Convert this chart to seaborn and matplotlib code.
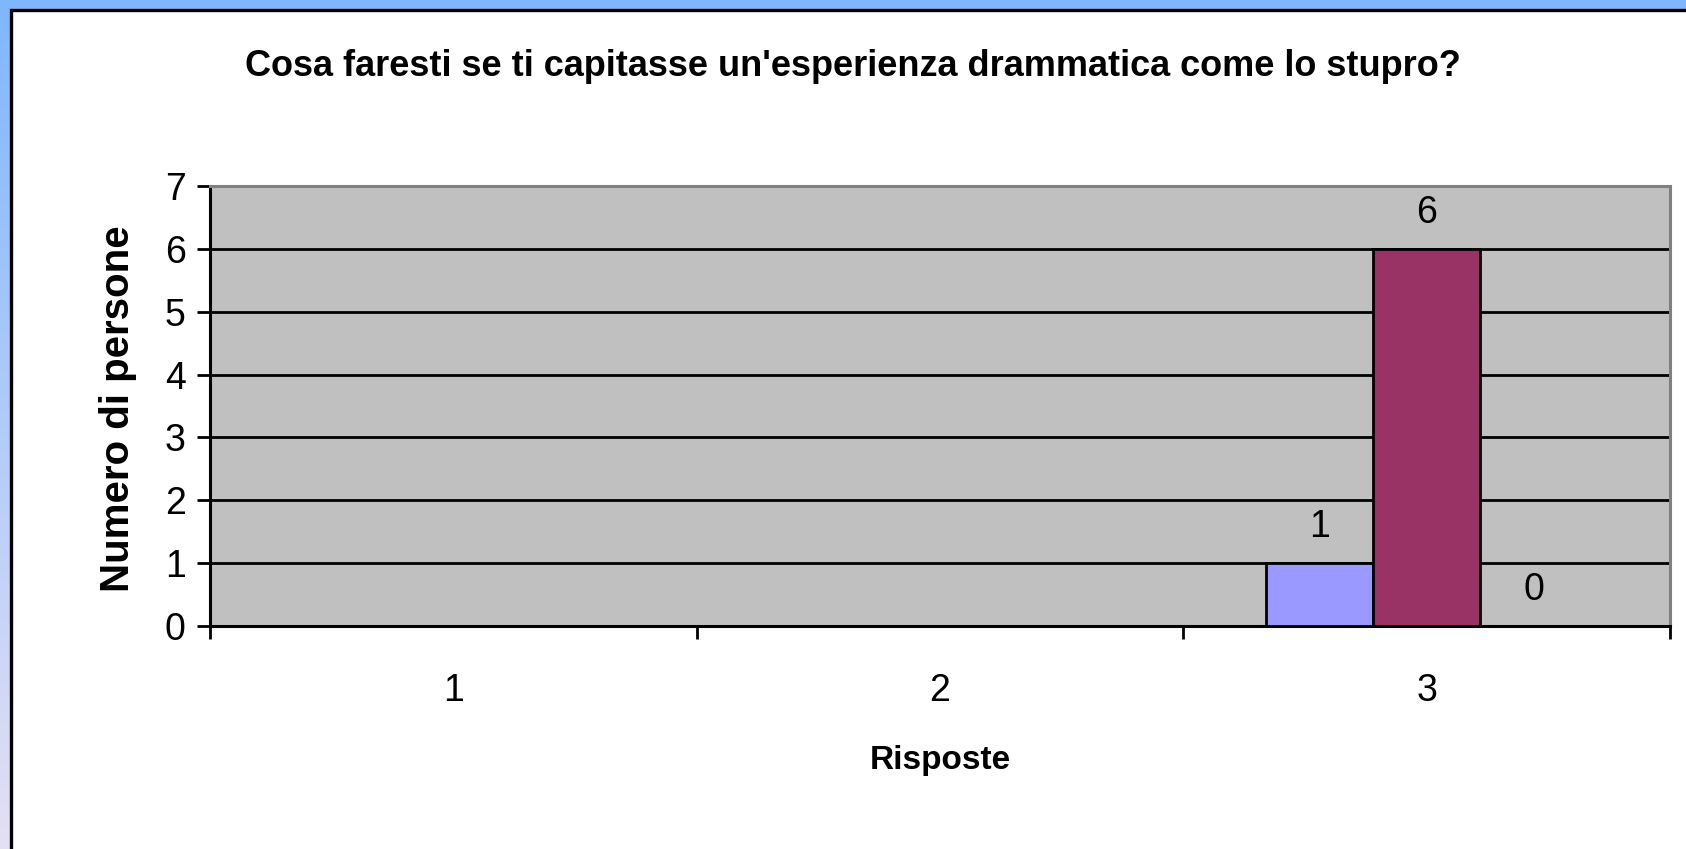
import numpy as np
import pandas as pd
import matplotlib
matplotlib.use('Agg')
import matplotlib.pyplot as plt
from matplotlib.patches import Rectangle
import seaborn as sns

# dati
risposte = ['1', '2', '3']
serie = ['A', 'B', 'C']
serie_a = [np.nan, np.nan, 1]
serie_b = [np.nan, np.nan, 6]
serie_c = [np.nan, np.nan, 0]
colori = ['#9999ff', '#993366', '#ffffcc']

df = pd.DataFrame({
    'Risposta': risposte * 3,
    'Serie': ['A'] * 3 + ['B'] * 3 + ['C'] * 3,
    'Persone': serie_a + serie_b + serie_c,
})

sns.set_style('white')
plt.rcParams['font.family'] = ['Liberation Sans', 'DejaVu Sans']
plt.rcParams['text.color'] = 'black'
plt.rcParams['xtick.color'] = 'black'
plt.rcParams['ytick.color'] = 'black'
plt.rcParams['axes.labelcolor'] = 'black'

fig = plt.figure(figsize=(16.86, 8.49), dpi=100)

# sfondo sfumato + pannello bianco
bg = fig.add_axes([0, 0, 1, 1], zorder=-2)
top = np.array([127, 183, 255]) / 255
bot = np.array([228, 224, 244]) / 255
t = np.linspace(0, 1, 256)[:, None]
grad = (top[None, :] * (1 - t) + bot[None, :] * t)[:, None, :]
bg.imshow(grad, aspect='auto', extent=[0, 1, 0, 1], origin='upper')
bg.add_patch(Rectangle((10.5 / 1686, -0.1), 2, 1.1 - 9.5 / 849,
                       transform=bg.transAxes, facecolor='white',
                       edgecolor='black', linewidth=2.4))
bg.set_xlim(0, 1)
bg.set_ylim(0, 1)
bg.axis('off')

ax = fig.add_axes([210 / 1686, 1 - 626 / 849, 1460 / 1686, 440 / 849], zorder=0)
ax.set_facecolor('#c0c0c0')

sns.barplot(data=df, x='Risposta', y='Persone', hue='Serie', order=risposte,
            hue_order=serie, palette=colori, saturation=1, width=0.66,
            edgecolor='black', linewidth=2, errorbar=None, legend=False,
            ax=ax, zorder=3)

for c in ax.containers:
    ax.bar_label(c, padding=13, fontsize=27)

ax.set_ylim(0, 7)
ax.set_xlim(-0.5, 2.5)
ax.set_yticks(range(8))
ax.yaxis.grid(True, color='black', linewidth=2)
ax.set_axisbelow(True)

ax.set_xticks(range(3))
ax.set_xticklabels(risposte, fontsize=27)
ax.set_xticks([-0.5, 0.5, 1.5, 2.5], minor=True)
ax.tick_params(axis='x', which='major', length=0, pad=34)
ax.tick_params(axis='x', which='minor', length=9.5, width=2, direction='out', color='black')
ax.tick_params(axis='y', length=9.5, width=2, direction='out', color='black', labelsize=27, pad=8)
ax.tick_params(left=True, bottom=True)
ax.xaxis.set_tick_params(which='minor', bottom=True)

for s in ['left', 'bottom']:
    ax.spines[s].set_color('black')
    ax.spines[s].set_linewidth(2.2)
for s in ['top', 'right']:
    ax.spines[s].set_color('#808080')
    ax.spines[s].set_linewidth(2.2)

ax.set_xlabel('Risposte', fontsize=24, fontweight='bold')
ax.set_ylabel('Numero di persone', fontsize=29, fontweight='bold')
ax.xaxis.set_label_coords(0.5, -0.27)
ax.yaxis.set_label_coords(-0.05, 0.495)

fig.text(853 / 1686, 1 - 66 / 849,
         "Cosa faresti se ti capitasse un'esperienza drammatica come lo stupro?",
         fontsize=26, fontweight='bold', ha='center', va='center')

fig.savefig('out.png', dpi=100)
